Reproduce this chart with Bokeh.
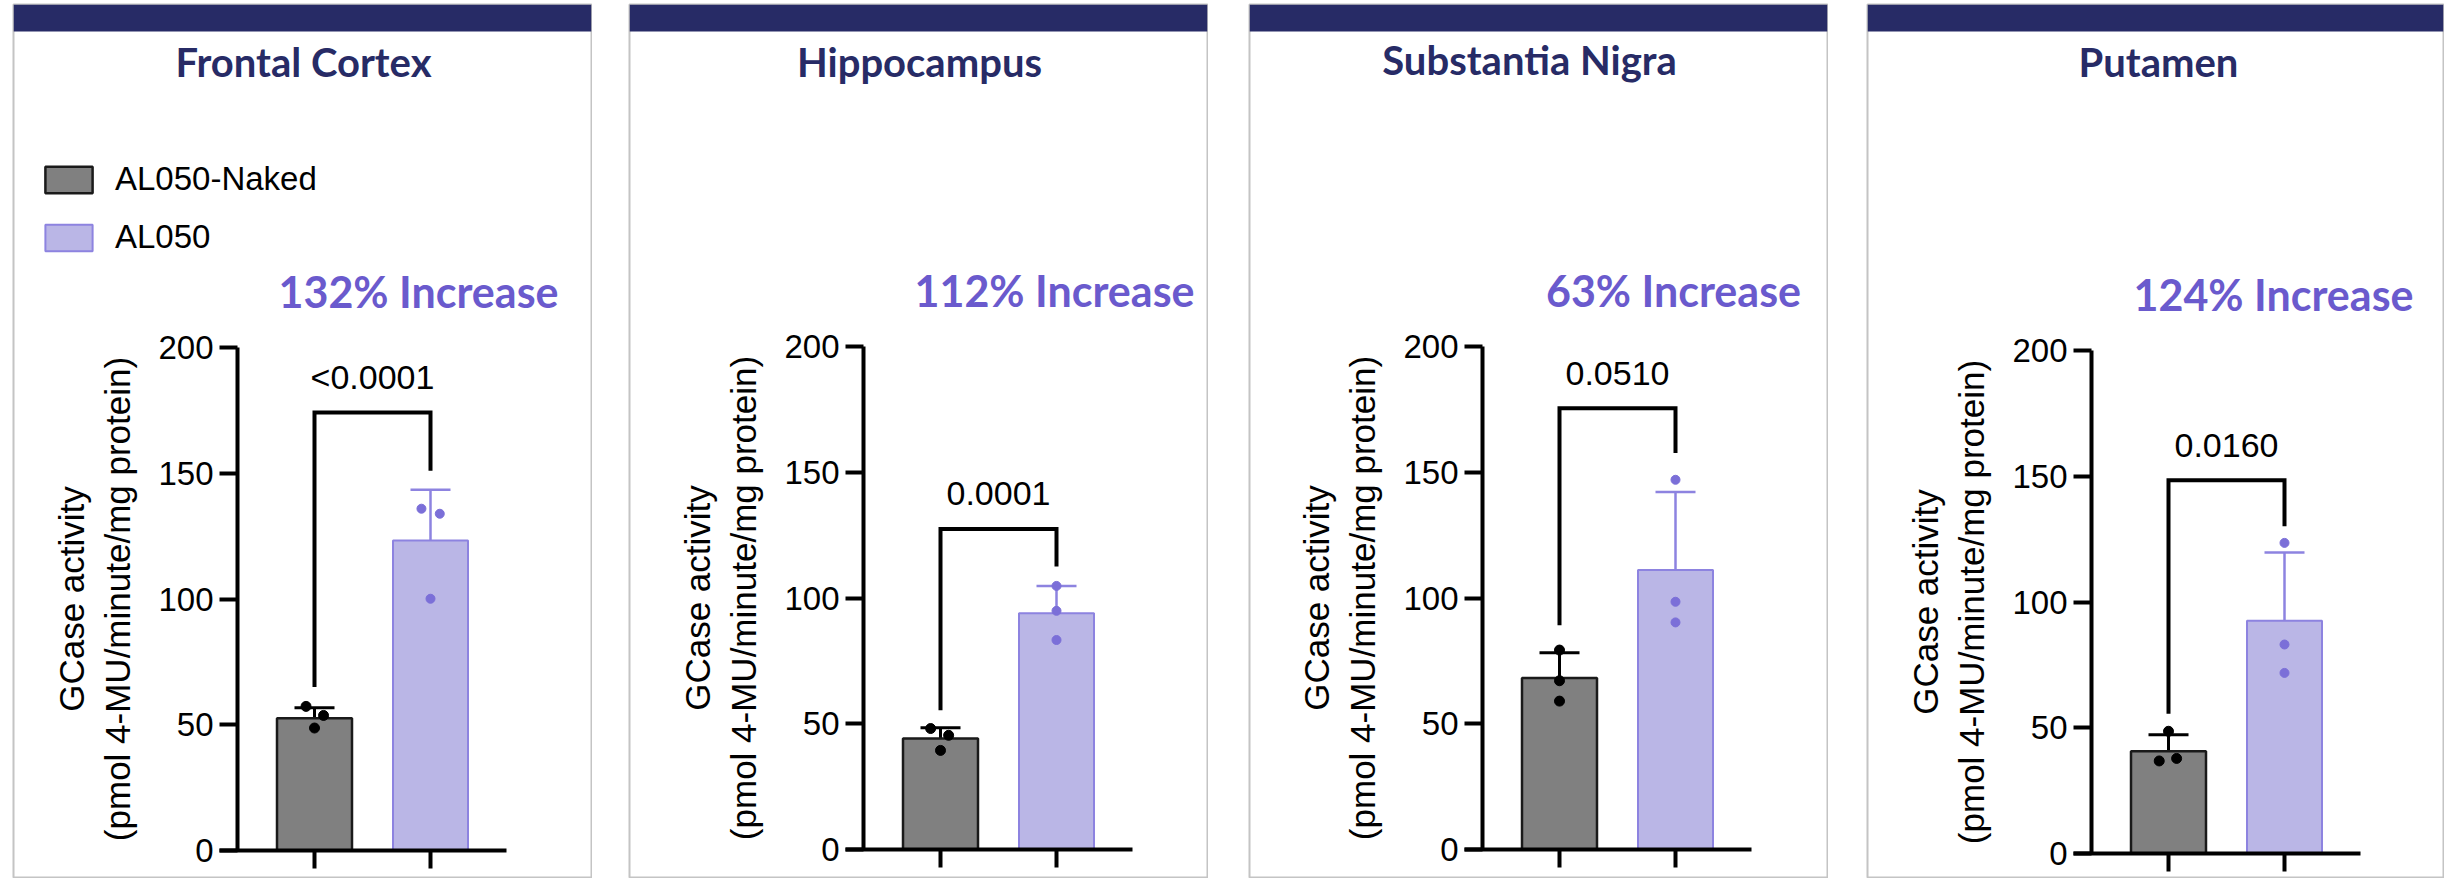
from bokeh.plotting import figure
from bokeh.models import (Range1d, LinearAxis, FixedTicker, ColumnDataSource, Whisker,
                          TeeHead, BoxAnnotation, Legend, LegendItem, Spacer)
from bokeh.layouts import row
from bokeh.core.properties import value
from bokeh.embed import file_html
from bokeh.resources import INLINE

# ---------------- data ----------------
regions = ["Frontal Cortex", "Hippocampus", "Substantia Nigra", "Putamen"]
groups = ["AL050-Naked", "AL050"]
naked_mean = [52.6, 44.1, 68.2, 40.7]
naked_sd = [4.2, 4.3, 10.0, 6.5]
al050_mean = [123.3, 93.9, 111.1, 92.5]
al050_sd = [20.1, 10.9, 31.0, 27.2]
naked_points = [[57.3, 53.7, 48.7], [48.1, 45.4, 39.4], [79.3, 67.1, 59.0], [48.6, 36.8, 37.8]]
al050_points = [[135.9, 133.9, 100.1], [104.8, 94.9, 83.3], [147.0, 98.5, 90.3], [123.5, 83.1, 71.8]]
naked_jitter = [[-0.073, 0.078, 0.0], [-0.085, 0.07, 0.0], [0.0, 0.0, 0.0], [0.0, -0.08, 0.07]]
al050_jitter = [[-0.078, 0.08, 0.0], [0.0, 0.0, 0.0], [0.0, 0.0, 0.0], [0.0, 0.0, 0.0]]
p_values = ["<0.0001", "0.0001", "0.0510", "0.0160"]
bracket_left = [65.0, 55.4, 89.2, 55.6]
bracket_top = [174.2, 127.4, 175.4, 148.4]
bracket_right = [151.0, 112.5, 157.7, 130.1]
pval_y = [188.2, 141.4, 189.1, 162.2]
increase_labels = ["132% Increase", "112% Increase", "63% Increase", "124% Increase"]
y_ticks = [0, 50, 100, 150, 200]
y_label = "GCase activity\n(pmol 4-MU/minute/mg protein)"

# ---------------- layout (page pixels; the page itself has no margin) ----------------
FIG_W = [580, 580, 580, 578]
GAPS = [12, 36, 40, 38]
FIG_LEFT = [12, 628, 1248, 1866]
PAGE_TOP = 3
FIG_H = 875
BORDER = 1
Y0_PX = [850, 849, 849, 853]
PPU = 2.515
C1_PX = [314, 940, 1559, 2168]
STEP_PX = 116
TITLE_X = [303, 919, 1529, 2158]
TITLE_Y = [61, 61, 59, 61]
INC_X = [418, 1054, 1673, 2273]
INC_Y = [291, 290, 290, 294]
NAVY_BOTTOM = 31

NAVY = "#272B66"
INC_COLOR = "#6A5ACD"
GRAY_FILL = "#808080"
GRAY_LINE = "#1a1a1a"
PURP_FILL = "#BAB6E6"
PURP_LINE = "#8D83E0"
PURP_DOT = "#7B6FD8"
FONT = "Liberation Sans"
TITLE_FONT = "Lato"

children = []
for i in range(4):
    fl = FIG_LEFT[i] + BORDER
    fr = FIG_LEFT[i] + FIG_W[i] - BORDER
    ft = PAGE_TOP + BORDER
    fb = PAGE_TOP + FIG_H - BORDER

    def dx(px, i=i):
        return 1 + (px - C1_PX[i]) / STEP_PX

    def dy(py, i=i):
        return (Y0_PX[i] - py) / PPU

    p = figure(width=FIG_W[i], height=FIG_H,
               x_range=Range1d(dx(fl), dx(fr)), y_range=Range1d(dy(fb), dy(ft)),
               x_axis_type=None, y_axis_type=None, toolbar_location=None,
               output_backend="svg", min_border=BORDER)
    p.min_border_left = BORDER
    p.min_border_right = BORDER
    p.min_border_top = BORDER
    p.min_border_bottom = BORDER
    p.outline_line_color = "#C4C4C4"
    p.outline_line_width = 2
    p.background_fill_color = "white"
    p.border_fill_color = "white"

    # navy header band
    p.add_layout(BoxAnnotation(bottom=dy(NAVY_BOTTOM), fill_color=NAVY, fill_alpha=1.0,
                               line_alpha=0.0))

    # axes
    axis_x = dx(C1_PX[i] - 77)
    yaxis = LinearAxis(ticker=FixedTicker(ticks=y_ticks), fixed_location=axis_x,
                       bounds=(y_ticks[0], y_ticks[-1]), axis_label=y_label)
    yaxis.axis_line_width = 4
    yaxis.axis_line_color = "black"
    yaxis.major_tick_line_width = 4
    yaxis.major_tick_out = 18
    yaxis.major_tick_in = 0
    yaxis.minor_tick_out = 0
    yaxis.minor_tick_in = 0
    yaxis.major_label_text_font = FONT
    yaxis.major_label_text_font_size = "33px"
    yaxis.major_label_text_color = "black"
    yaxis.major_label_standoff = 6
    yaxis.axis_label_text_font = FONT
    yaxis.axis_label_text_font_size = "35px"
    yaxis.axis_label_text_font_style = "normal"
    yaxis.axis_label_text_color = "black"
    yaxis.axis_label_standoff = 18
    p.add_layout(yaxis, "left")

    xaxis = LinearAxis(ticker=FixedTicker(ticks=[1, 2]), fixed_location=0,
                       bounds=(dx(C1_PX[i] - 77 - 18), dx(C1_PX[i] + STEP_PX + 76)),
                       major_label_overrides={1: "", 2: ""})
    xaxis.axis_line_width = 4
    xaxis.axis_line_color = "black"
    xaxis.major_tick_line_width = 4
    xaxis.major_tick_out = 18
    xaxis.major_tick_in = 0
    xaxis.minor_tick_out = 0
    xaxis.minor_tick_in = 0
    xaxis.major_label_text_font_size = "1px"
    p.add_layout(xaxis, "below")

    bar_w = 75 / STEP_PX
    r_naked = p.vbar(x=[1], top=[naked_mean[i]], bottom=0, width=bar_w,
                     fill_color=GRAY_FILL, line_color=GRAY_LINE, line_width=2.5)
    r_al = p.vbar(x=[2], top=[al050_mean[i]], bottom=0, width=bar_w,
                  fill_color=PURP_FILL, line_color=PURP_LINE, line_width=2)

    # error bars (mean +/- SD)
    for xc, m, s, col, lw in [(1, naked_mean[i], naked_sd[i], "black", 3),
                              (2, al050_mean[i], al050_sd[i], PURP_LINE, 2.5)]:
        src = ColumnDataSource(dict(x=[xc], upper=[m + s], lower=[m - s]))
        p.add_layout(Whisker(base="x", upper="upper", lower="lower", source=src,
                             line_color=col, line_width=lw,
                             upper_head=TeeHead(size=40, line_color=col, line_width=lw),
                             lower_head=TeeHead(size=40, line_color=col, line_width=lw)))

    # individual points
    p.scatter(x=[1 + j for j in naked_jitter[i]], y=naked_points[i], size=10,
              fill_color="black", line_color="black")
    p.scatter(x=[2 + j for j in al050_jitter[i]], y=al050_points[i], size=9,
              fill_color=PURP_DOT, line_color=PURP_DOT)

    # significance bracket
    p.line(x=[1, 1, 2, 2], y=[bracket_left[i], bracket_top[i], bracket_top[i], bracket_right[i]],
           line_color="black", line_width=4, line_join="miter")
    p.text(x=[1.5], y=[pval_y[i]], text=[p_values[i]], text_align="center",
           text_baseline="middle", text_font=value(FONT), text_font_size=value("34px"),
           text_color="black")

    # titles
    p.text(x=[dx(TITLE_X[i])], y=[dy(TITLE_Y[i])], text=[regions[i]], text_align="center",
           text_baseline="middle", text_font=value(TITLE_FONT), text_font_style="bold",
           text_font_size=value("40px"), text_color=NAVY)
    p.text(x=[dx(INC_X[i])], y=[dy(INC_Y[i])], text=[increase_labels[i]], text_align="center",
           text_baseline="middle", text_font=value(TITLE_FONT), text_font_style="bold",
           text_font_size=value("43px"), text_color=INC_COLOR)

    if i == 0:
        gw, gh = 59, 33
        legend = Legend(items=[LegendItem(label=groups[0], renderers=[r_naked]),
                               LegendItem(label=groups[1], renderers=[r_al])],
                        location=(39 - fl, fb - 256), glyph_width=gw, glyph_height=gh,
                        label_standoff=17, spacing=20, padding=0, margin=0,
                        border_line_alpha=0, background_fill_alpha=0,
                        label_text_font=FONT, label_text_font_size="33px",
                        label_text_color="black")
        p.add_layout(legend)

    children.append(Spacer(width=GAPS[i], height=FIG_H))
    children.append(p)

layout = row(children, margin=(PAGE_TOP, 0, 0, 0))
html = file_html(layout, INLINE, "GCase activity")
open("out.html", "w").write(html)
